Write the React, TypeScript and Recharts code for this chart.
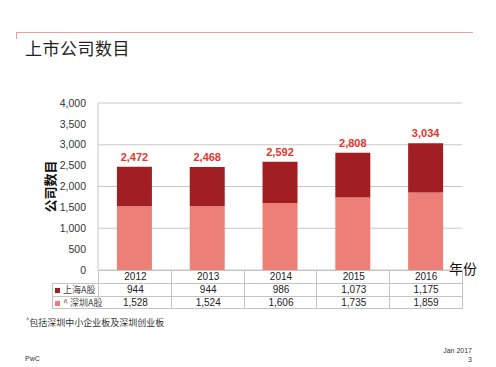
import { BarChart, Bar, XAxis, YAxis, CartesianGrid, LabelList } from 'recharts';

const years = ['2012', '2013', '2014', '2015', '2016'];
const shanghai = [944, 944, 986, 1073, 1175];
const shenzhen = [1528, 1524, 1606, 1735, 1859];
const yTicks = [0, 500, 1000, 1500, 2000, 2500, 3000, 3500, 4000];

const seriesNames = ['上海A股', '^ 深圳A股'];
const DARK = '#a11f22';
const LIGHT = '#ec8077';

const data = years.map((year, i) => ({
  year,
  shenzhen: shenzhen[i],
  shanghai: shanghai[i],
  total: shenzhen[i] + shanghai[i],
}));

const fmt = (v: number) => v.toLocaleString('en-US');

// plot box
const PLOT_LEFT = 98;
const PLOT_RIGHT = 462;
const PLOT_TOP = 103;
const PLOT_BOTTOM = 270;
const COL_W = (PLOT_RIGHT - PLOT_LEFT) / years.length;
const ROW_H = 13;
const BORDER = '#c4c4c4';
const CJK = '"Noto Sans CJK SC", "Liberation Sans", sans-serif';
const NUM = '"Liberation Sans", Arial, sans-serif';

function Table() {
  const rows = [
    { name: null, color: '', values: years },
    { name: seriesNames[0], color: DARK, values: shanghai.map(fmt) },
    { name: seriesNames[1], color: LIGHT, values: shenzhen.map(fmt) },
  ];
  return (
    <div style={{ position: 'absolute', left: 0, top: PLOT_BOTTOM, width: 496 }}>
      {rows.map((r, ri) => (
        <div key={ri} style={{ position: 'absolute', top: ri * ROW_H, left: 0, height: ROW_H, width: 496 }}>
          {r.name && (
            <div
              style={{
                position: 'absolute',
                left: 52,
                width: PLOT_LEFT - 52,
                height: ROW_H,
                boxSizing: 'border-box',
                borderLeft: `1px solid ${BORDER}`,
                borderTop: `1px solid ${BORDER}`,
                borderBottom: ri === rows.length - 1 ? `1px solid ${BORDER}` : undefined,
                fontFamily: CJK,
                fontSize: 9,
                lineHeight: `${ROW_H - 1}px`,
                color: '#444',
                whiteSpace: 'nowrap',
                paddingLeft: 2,
              }}
            >
              <span style={{ display: 'inline-block', width: 5, height: 5, background: r.color, marginRight: 3, verticalAlign: 'middle' }} />
              {r.name}
            </div>
          )}
          {r.values.map((v, ci) => (
            <div
              key={ci}
              style={{
                position: 'absolute',
                left: PLOT_LEFT + ci * COL_W,
                width: COL_W + 1,
                height: ROW_H,
                boxSizing: 'border-box',
                borderLeft: `1px solid ${BORDER}`,
                borderRight: ci === years.length - 1 ? `1px solid ${BORDER}` : undefined,
                borderTop: `1px solid ${BORDER}`,
                borderBottom: ri === rows.length - 1 ? `1px solid ${BORDER}` : undefined,
                textAlign: 'center',
                fontFamily: NUM,
                fontSize: 10,
                lineHeight: `${ROW_H - 1}px`,
                color: '#222',
              }}
            >
              {v}
            </div>
          ))}
        </div>
      ))}
    </div>
  );
}

export default function App() {
  return (
    <div style={{ position: 'absolute', left: 0, top: 0, width: 496, height: 367, background: '#fff', overflow: 'hidden' }}>
      {/* header rule */}
      <div style={{ position: 'absolute', left: 16, top: 32, width: 457, height: 1, background: '#f0a098' }} />
      <div style={{ position: 'absolute', left: 16, top: 32, width: 1, height: 7, background: '#f0a098' }} />
      <div style={{ position: 'absolute', left: 25, top: 35, fontFamily: CJK, fontSize: 17, color: '#222', letterSpacing: 0.5 }}>
        上市公司数目
      </div>

      <div style={{ position: 'absolute', left: 0, top: 0 }}>
        <BarChart
          width={496}
          height={367}
          data={data}
          margin={{ top: PLOT_TOP, right: 496 - PLOT_RIGHT, bottom: 367 - PLOT_BOTTOM, left: 0 }}
          barCategoryGap="26%"
        >
          <CartesianGrid vertical={false} stroke="#c8c8c8" />
          <XAxis dataKey="year" hide />
          <YAxis
            width={PLOT_LEFT}
            domain={[0, 4000]}
            ticks={yTicks}
            tickFormatter={fmt}
            axisLine={{ stroke: '#c8c8c8' }}
            tickLine={false}
            tick={{ fontSize: 10.5, fill: '#333', fontFamily: NUM }}
            tickMargin={6}
            label={{
              value: '公司数目',
              angle: -90,
              position: 'insideLeft',
              offset: 50,
              style: { fontFamily: CJK, fontSize: 13, fontWeight: 'bold', fill: '#111', textAnchor: 'middle' },
            }}
          />
          <Bar dataKey="shenzhen" stackId="a" fill={LIGHT} isAnimationActive={false} />
          <Bar dataKey="shanghai" stackId="a" fill={DARK} isAnimationActive={false}>
            <LabelList
              dataKey="total"
              position="top"
              offset={6}
              formatter={(v: number) => fmt(v)}
              style={{ fill: '#e8352e', fontSize: 11, fontWeight: 'bold', fontFamily: NUM }}
            />
          </Bar>
        </BarChart>
      </div>

      <div style={{ position: 'absolute', left: 449, top: 258, fontFamily: CJK, fontSize: 14, color: '#111' }}>
        年份
      </div>

      <Table />

      <div style={{ position: 'absolute', left: 26, top: 315, fontFamily: CJK, fontSize: 9, color: '#333' }}>
        <sup style={{ fontSize: 6 }}>^</sup>包括深圳中小企业板及深圳创业板
      </div>
      <div style={{ position: 'absolute', left: 25, top: 355, fontFamily: NUM, fontSize: 7, color: '#333' }}>PwC</div>
      <div style={{ position: 'absolute', right: 24, top: 346, fontFamily: NUM, fontSize: 7, color: '#333', textAlign: 'right', lineHeight: '9px' }}>
        Jan 2017
        <br />3
      </div>
    </div>
  );
}
